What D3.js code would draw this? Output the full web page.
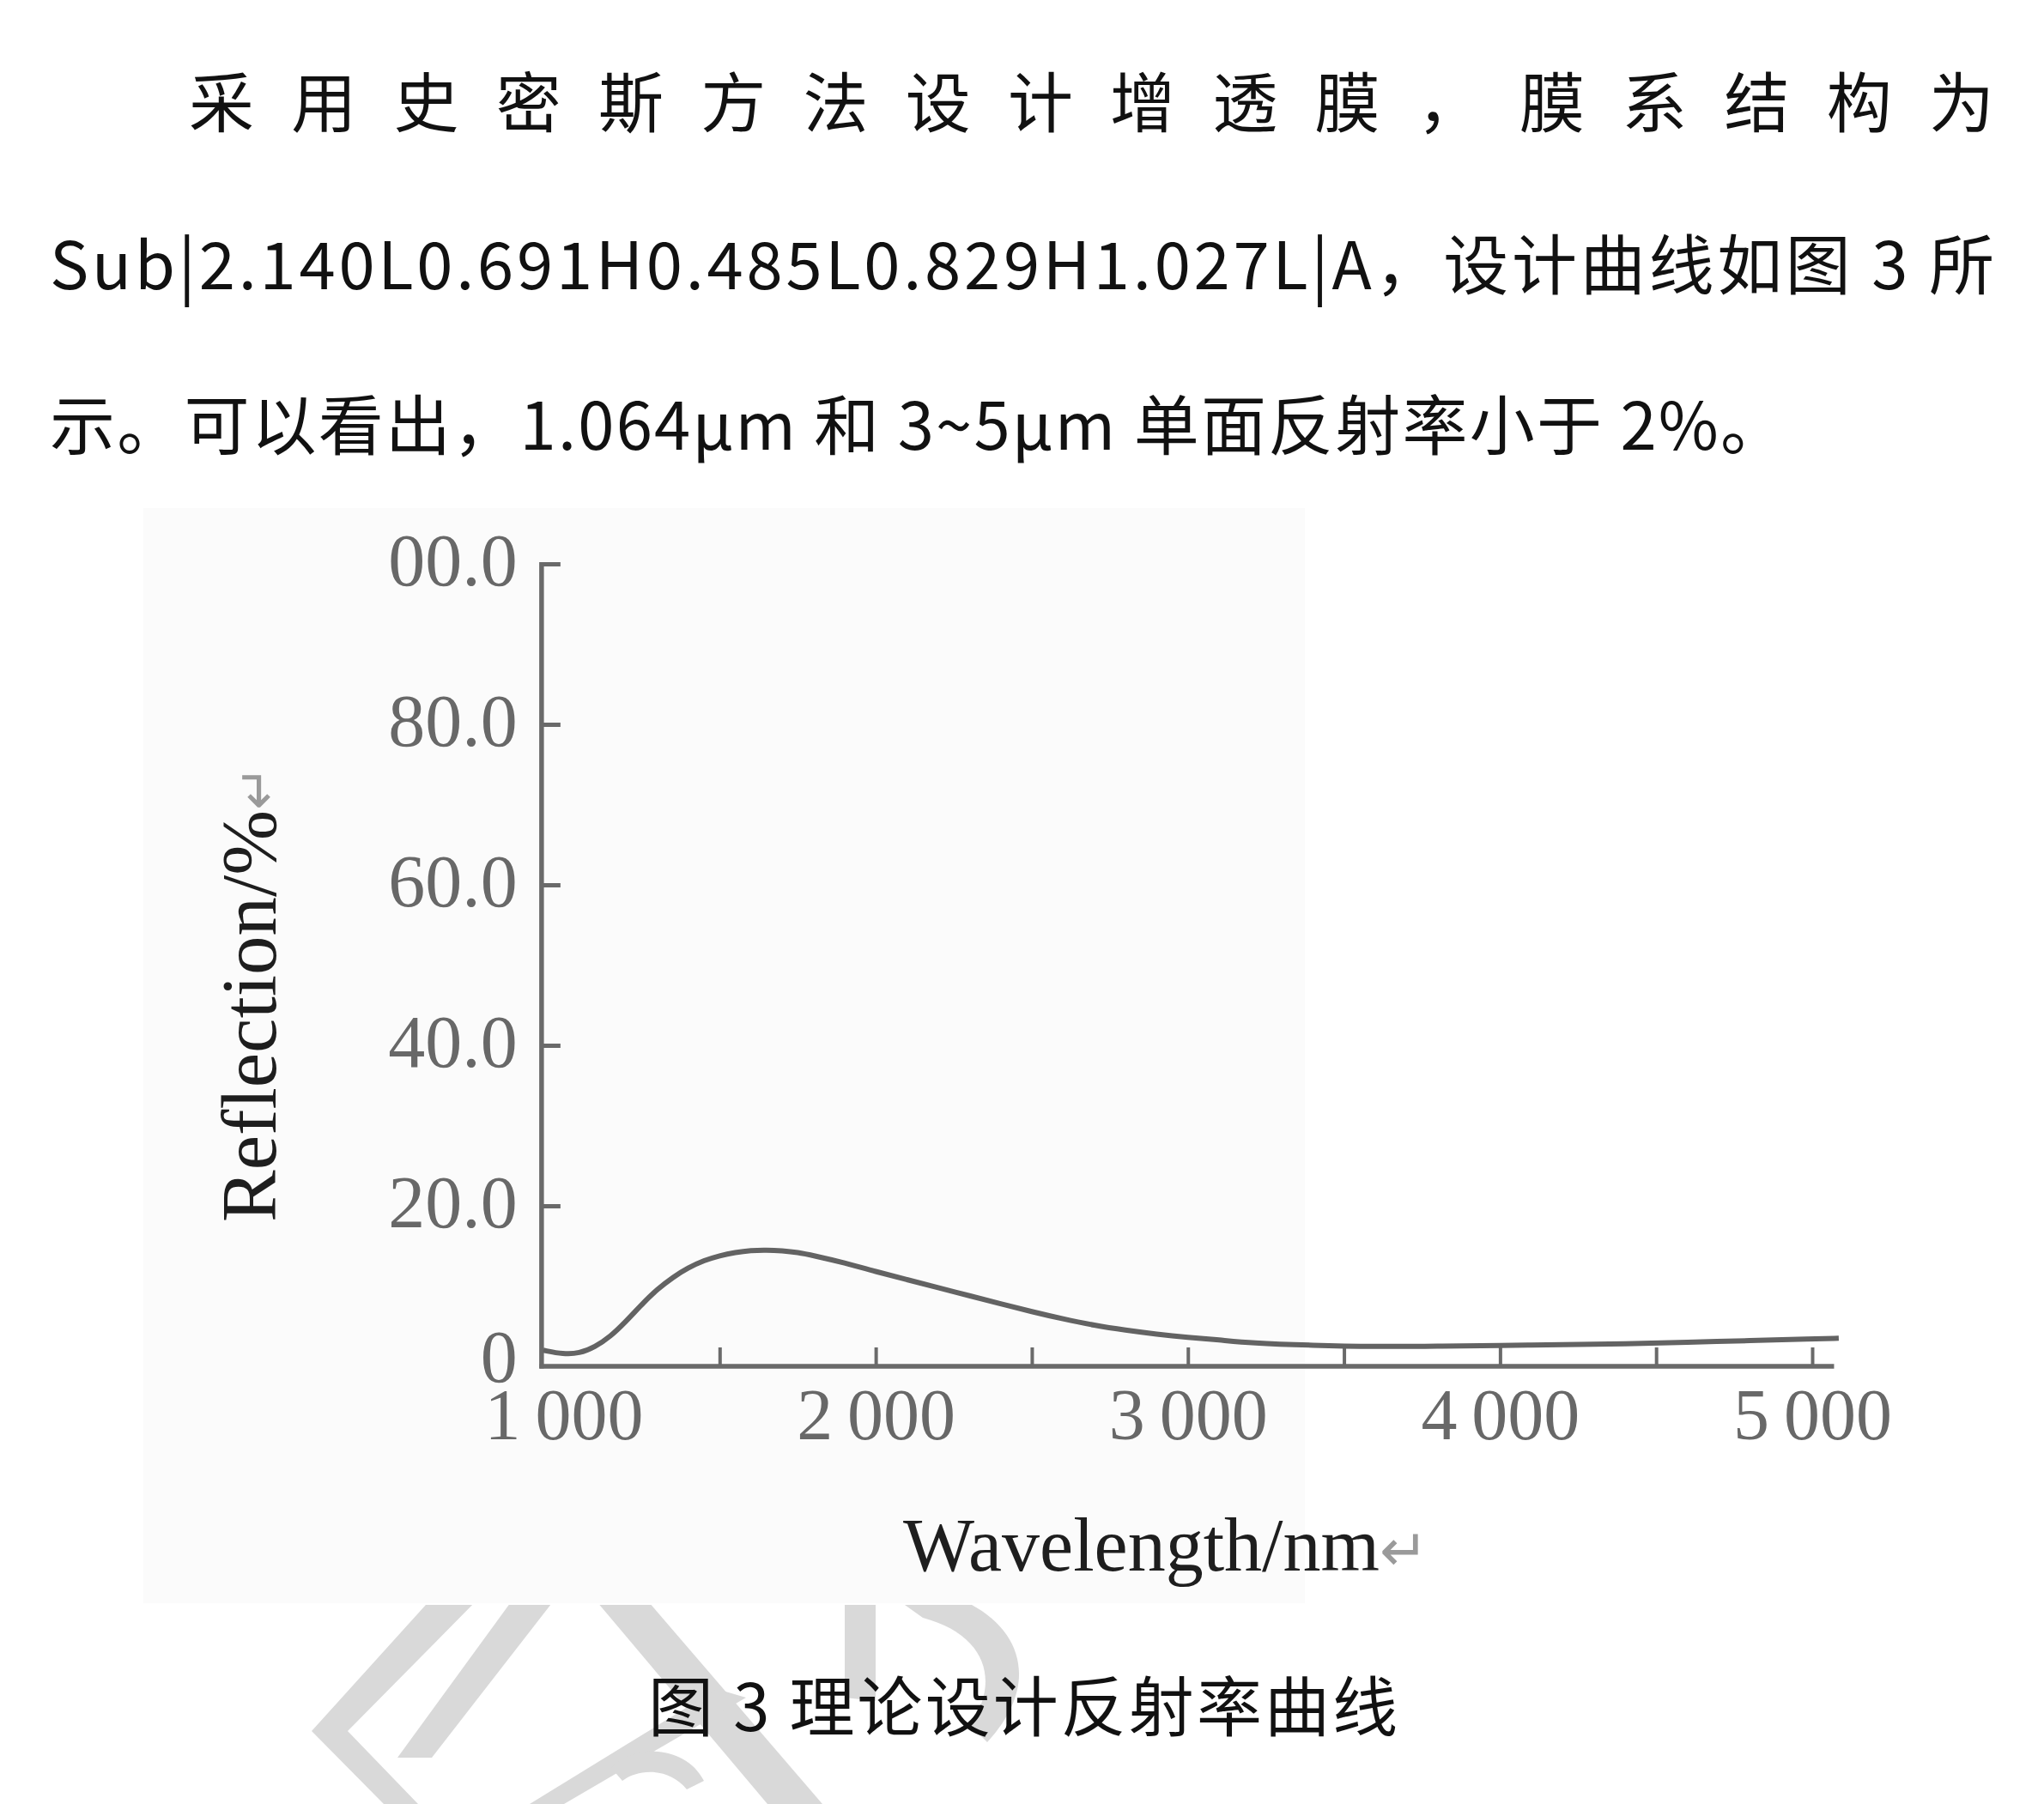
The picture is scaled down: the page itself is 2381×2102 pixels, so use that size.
<!DOCTYPE html>
<html>
<head>
<meta charset="utf-8">
<script src="https://cdn.jsdelivr.net/npm/d3@7"></script>
<style>
  html, body { margin: 0; padding: 0; background: #ffffff; }
  svg { display: block; }
</style>
</head>
<body>
<script>
// ---------------- data ----------------
const wavelengths = [935, 1000, 1050, 1100, 1150, 1200, 1250, 1300, 1350, 1400, 1450, 1500, 1550, 1600, 1650, 1700, 1750, 1800, 1900, 2000, 2100, 2200, 2300, 2400, 2500, 2600, 2700, 2800, 2900, 3000, 3100, 3200, 3400, 3600, 3800, 4000, 4200, 4400, 4600, 4800, 5000, 5085];
const reflection  = [2.0, 1.5, 1.6, 2.4, 3.7, 5.6, 7.7, 9.6, 11.1, 12.3, 13.2, 13.8, 14.2, 14.45, 14.5, 14.4, 14.2, 13.8, 12.9, 11.8, 10.8, 9.8, 8.8, 7.8, 6.8, 5.9, 5.1, 4.5, 4.0, 3.6, 3.3, 2.9, 2.6, 2.45, 2.5, 2.6, 2.7, 2.8, 3.0, 3.2, 3.4, 3.5];

const xAxisExtent = [935, 5070];
const xTickMarks = [1500, 2000, 2500, 3000, 3500, 4000, 4500, 5000];
const xLabelValues = [1000, 2000, 3000, 4000, 5000];
const xTickLabels = ["1\u2009000", "2\u2009000", "3\u2009000", "4\u2009000", "5\u2009000"];
const yTickValues = [0, 20, 40, 60, 80, 100];
const yTickLabels = ["0", "20.0", "40.0", "60.0", "80.0", "100.0"];

const xTitle = "Wavelength/nm";
const yTitle = "Reflection/%";
const paragraph = [
  "采用史密斯方法设计增透膜，膜系结构为",
  "Sub|2.140L0.691H0.485L0.829H1.027L|A，设计曲线如图 3 所",
  "示。可以看出，1.064μm 和 3~5μm 单面反射率小于 2%。"
];
const caption = "图 3 理论设计反射率曲线";

// ---------------- layout ----------------
const W = 2381, H = 2102;
const svg = d3.select("body").append("svg").attr("width", W).attr("height", H);
svg.append("rect").attr("width", W).attr("height", H).attr("fill", "#ffffff");

const defs = svg.append("defs");
defs.append("clipPath").attr("id", "labelClip")
  .append("rect").attr("x", 452).attr("y", 0).attr("width", W).attr("height", H);
defs.append("clipPath").attr("id", "wmClip")
  .append("rect").attr("x", 0).attr("y", 1870).attr("width", W).attr("height", H - 1870);

// faint scanned figure background
svg.append("rect").attr("x", 167).attr("y", 592).attr("width", 1353).attr("height", 1276)
  .attr("fill", "#f7f7f7").attr("opacity", 0.45);

// watermark (decorative)
const wm = svg.append("g").attr("clip-path", "url(#wmClip)").attr("fill", "#d9d9d9");
const wmShapes = [
  [[505,1860],[560,1860],[405,2017],[487,2102],[447,2102],[363,2017]],
  [[600,1860],[649,1860],[503,2048],[463,2048]],
  [[690,1860],[750,1860],[958,2102],[894,2102]],
  [[835,1968],[869,1978],[657,2102],[617,2102]],
  [[984,1860],[1020,1860],[1020,1982],[984,1978]]
];
wmShapes.forEach(p => wm.append("polygon").attr("points", p.map(q => q.join(",")).join(" ")));
wm.append("path").attr("d", "M1040,1860 L1110,1860 C1190,1890 1215,1960 1150,2030 L1130,2010 C1165,1960 1150,1905 1075,1885 Z");
wm.append("path").attr("d", "M712,2060 C740,2030 800,2035 820,2075 L800,2085 C780,2060 745,2060 725,2075 Z");

// paragraph text
const bodyFont = "'Noto Sans CJK SC', 'Noto Sans', sans-serif";
const pLines = [
  {x: 220, y: 148, len: 2103},
  {x: 58,  y: 337, len: 2265},
  {x: 58,  y: 524, len: 2022}
];
paragraph.forEach((t, i) => {
  svg.append("text")
    .attr("x", pLines[i].x).attr("y", pLines[i].y)
    .attr("textLength", pLines[i].len).attr("lengthAdjust", "spacing")
    .attr("font-family", bodyFont).attr("font-size", 76).attr("fill", "#111")
    .text(t);
});

svg.append("text")
  .attr("x", 755).attr("y", 2017)
  .attr("textLength", 873).attr("lengthAdjust", "spacing")
  .attr("font-family", bodyFont).attr("font-size", 76).attr("fill", "#111")
  .text(caption);

// ---------------- chart ----------------
const x = d3.scaleLinear().domain([1000, 5000]).range([656.5, 2111]);
const y = d3.scaleLinear().domain([0, 100]).range([1592, 657]);
const axisColor = "#6a6a6a";
const labelColor = "#686868";
const serif = "'Liberation Serif', 'Times New Roman', serif";

const g = svg.append("g");

// y axis (wrapped in an untransformed group so the clip uses page coordinates)
const yAxisX = x(xAxisExtent[0]) - 2;
const yWrap = g.append("g").attr("clip-path", "url(#labelClip)");
const yAx = yWrap.append("g").attr("transform", `translate(${yAxisX},0)`)
  .call(d3.axisLeft(y).tickValues(yTickValues)
    .tickFormat((d, i) => yTickLabels[i])
    .tickSizeInner(-22).tickSizeOuter(0).tickPadding(28));
yAx.select(".domain").remove();
yAx.selectAll(".tick line").attr("stroke", axisColor).attr("stroke-width", 5)
  .filter(d => d === 0).remove();
yAx.selectAll(".tick text").attr("font-family", serif).attr("font-size", 86)
  .attr("fill", labelColor).attr("dy", d => d === 0 ? "0.2em" : "0.28em");

// x axis tick marks (inward)
const xAx = g.append("g").attr("transform", `translate(0,${y(0)})`)
  .call(d3.axisBottom(x).tickValues(xTickMarks).tickFormat("")
    .tickSizeInner(-22).tickSizeOuter(0));
xAx.select(".domain").remove();
xAx.selectAll(".tick line").attr("stroke", axisColor).attr("stroke-width", 4);

// x axis labels
const xLab = g.append("g").attr("transform", `translate(0,${y(0)})`)
  .call(d3.axisBottom(x).tickValues(xLabelValues)
    .tickFormat((d, i) => xTickLabels[i]).tickSize(0).tickPadding(25));
xLab.select(".domain").remove();
xLab.selectAll(".tick text").attr("font-family", serif).attr("font-size", 84).attr("fill", labelColor);

// axis lines
g.append("line").attr("x1", yAxisX).attr("x2", yAxisX).attr("y1", y(100) - 2).attr("y2", y(0) + 2.5)
  .attr("stroke", axisColor).attr("stroke-width", 5.5);
g.append("line").attr("x1", yAxisX - 2.5).attr("x2", x(xAxisExtent[1])).attr("y1", y(0)).attr("y2", y(0))
  .attr("stroke", axisColor).attr("stroke-width", 5.5);

// curve
const pts = wavelengths.map((w, i) => [w, reflection[i]]);
g.append("path").datum(pts)
  .attr("d", d3.line().x(d => x(d[0])).y(d => y(d[1])).curve(d3.curveBasis))
  .attr("fill", "none").attr("stroke", "#636363").attr("stroke-width", 6);

// axis titles
const xt = g.append("text").attr("x", 1052).attr("y", 1830)
  .attr("font-family", serif).attr("font-size", 88).attr("fill", "#1e1e1e");
xt.append("tspan").text(xTitle);
xt.append("tspan").attr("fill", "#9a9a9a").attr("font-size", 68).attr("font-family", "'DejaVu Sans', sans-serif").text("\u21B5");

const yt = g.append("text").attr("transform", "translate(321,1424) rotate(-90)")
  .attr("font-family", serif).attr("font-size", 91).attr("fill", "#1e1e1e");
yt.append("tspan").text(yTitle);
yt.append("tspan").attr("fill", "#9a9a9a").attr("font-size", 62).attr("font-family", "'DejaVu Sans', sans-serif").text("\u21B5");
</script>
</body>
</html>
